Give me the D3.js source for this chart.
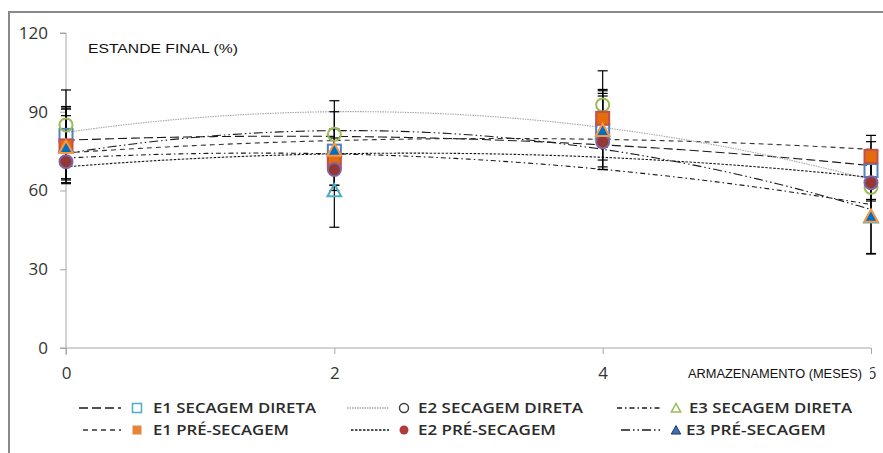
<!DOCTYPE html>
<html>
<head>
<meta charset="utf-8">
<script src="https://cdn.jsdelivr.net/npm/d3@7/dist/d3.min.js"></script>
<style>
  html, body { margin: 0; padding: 0; background: #fff; }
  svg { display: block; }
</style>
</head>
<body>
<svg id="chart" width="883" height="453"></svg>
<script>
// Storage time (months)
const months = [0, 2, 4, 6];
const xTicks = [0, 2, 4, 6];
const yTicks = [0, 30, 60, 90, 120];

const seriesNames = [
  "E1 SECAGEM DIRETA", "E1 PRÉ-SECAGEM",
  "E2 SECAGEM DIRETA", "E2 PRÉ-SECAGEM",
  "E3 SECAGEM DIRETA", "E3 PRÉ-SECAGEM"
];

// Final stand (%) per storage time
const e1Direta = [81, 75, 83, 67.6];
const e1Pre    = [77, 71, 87.5, 73];
const e2Direta = [85, 81.4, 92.6, 61.2];
const e2Pre    = [71, 68, 78.6, 63];
const e3Direta = [77, 60, 82, 50];
const e3Pre    = [76.5, 75.5, 83, 50.3];

// Error amplitudes (±)
const e1DiretaErr = [11, 15, 15, 11];
const e1PreErr    = [14, 9, 11, 8];
const e2DiretaErr = [13.3, 12.8, 13, 13];
const e2PreErr    = [7, 6, 7, 7];
const e3DiretaErr = [14.4, 14, 14, 14];
const e3PreErr    = [12, 8, 14, 14.5];

const titleText = "ESTANDE FINAL (%)";
const xTitleText = "ARMAZENAMENTO (MESES)";

// ---- styling per series ----
const styles = [
  { shape: "square",   fill: "none",    stroke: "#4F81BD", lFill: "none",    lStroke: "#4BACC6", dash: "9,4",            line: "#1a1a1a" },
  { shape: "square",   fill: "#E46C0A", stroke: "#C0504D", lFill: "#E8833A", lStroke: "none",    dash: "5,4",            line: "#333" },
  { shape: "circle",   fill: "none",    stroke: "#9BBB59", lFill: "none",    lStroke: "#404040", dash: "1.5,1",          line: "#a6a6a6" },
  { shape: "circle",   fill: "#953735", stroke: "#8064A2", lFill: "#B13B3B", lStroke: "none",    dash: "2.5,1.5",        line: "#1a1a1a" },
  { shape: "triangle", fill: "none",    stroke: "#4BACC6", lFill: "none",    lStroke: "#9BBB59", dash: "5,3,1.5,3",      line: "#1a1a1a" },
  { shape: "triangle", fill: "#0070C0", stroke: "#F79646", lFill: "#3F6FB3", lStroke: "#1F3864", dash: "9,3,1.5,3,1.5,3", line: "#1a1a1a" }
];

const values = [e1Direta, e1Pre, e2Direta, e2Pre, e3Direta, e3Pre];
const errors = [e1DiretaErr, e1PreErr, e2DiretaErr, e2PreErr, e3DiretaErr, e3PreErr];

const series = seriesNames.map((name, i) => ({
  name, values: values[i], errors: errors[i], style: styles[i]
}));

const svg = d3.select("#chart");

// outer frame (left and top edges)
svg.append("path")
  .attr("d", "M9,453 L9,12 L883,12")
  .attr("fill", "none").attr("stroke", "#898989").attr("stroke-width", 2);

const x = d3.scaleLinear().domain([0, 6]).range([66, 871]);
const y = d3.scaleLinear().domain([0, 120]).range([348, 33]);

// ---- axes ----
const yAxis = d3.axisLeft(y).tickValues(yTicks).tickSize(6).tickPadding(12);
const gy = svg.append("g").attr("transform", `translate(${x(0)},0)`).call(yAxis);
gy.select(".domain").attr("stroke", "#a6a6a6").attr("d", `M-6,${y(120)}H0V${y(0) + 7}`);
gy.selectAll(".tick line").attr("stroke", "#a6a6a6");
gy.selectAll(".tick text")
  .attr("font-family", "'Open Sans', 'Liberation Sans', sans-serif")
  .attr("font-size", 17).attr("fill", "#333");

const xAxis = d3.axisBottom(x).tickValues(xTicks).tickSize(6).tickPadding(13).tickFormat(d3.format("d"));
const gx = svg.append("g").attr("transform", `translate(0,${y(0)})`).call(xAxis);
gx.select(".domain").attr("stroke", "#a6a6a6").attr("d", `M${x(0) - 6},0H${x(6)}`);
gx.selectAll(".tick line").attr("stroke", "#a6a6a6");
gx.selectAll(".tick text")
  .attr("font-family", "'Open Sans', 'Liberation Sans', sans-serif")
  .attr("font-size", 17).attr("fill", "#333");

// axis titles
svg.append("text")
  .attr("x", 88).attr("y", 53)
  .attr("font-family", "'Liberation Sans', Arial, sans-serif")
  .attr("font-size", 13).attr("fill", "#111")
  .attr("textLength", 150).attr("lengthAdjust", "spacingAndGlyphs")
  .text(titleText);

svg.append("rect")
  .attr("x", 684).attr("y", 362).attr("width", 186).attr("height", 24)
  .attr("fill", "#fff");
svg.append("text")
  .attr("x", 688).attr("y", 378)
  .attr("font-family", "'Liberation Sans', Arial, sans-serif")
  .attr("font-size", 12).attr("fill", "#111")
  .attr("textLength", 174).attr("lengthAdjust", "spacingAndGlyphs")
  .text(xTitleText);

// ---- quadratic trend lines (least squares) ----
function quadFit(xs, ys) {
  const n = xs.length;
  let s = [0, 0, 0, 0, 0], t = [0, 0, 0];
  for (let i = 0; i < n; i++) {
    const xi = xs[i], yi = ys[i];
    for (let k = 0; k < 5; k++) s[k] += Math.pow(xi, k);
    for (let k = 0; k < 3; k++) t[k] += yi * Math.pow(xi, k);
  }
  const A = [[s[0], s[1], s[2]], [s[1], s[2], s[3]], [s[2], s[3], s[4]]];
  const det = m => m[0][0] * (m[1][1] * m[2][2] - m[1][2] * m[2][1])
                 - m[0][1] * (m[1][0] * m[2][2] - m[1][2] * m[2][0])
                 + m[0][2] * (m[1][0] * m[2][1] - m[1][1] * m[2][0]);
  const D = det(A);
  const coef = [0, 1, 2].map(c => {
    const M = A.map((row, r) => row.map((v, j) => (j === c ? t[r] : v)));
    return det(M) / D;
  });
  return xv => coef[0] + coef[1] * xv + coef[2] * xv * xv;
}

const line = d3.line().x(d => x(d[0])).y(d => y(d[1]));
const samples = d3.range(0, 6.0001, 0.05);

svg.append("g").selectAll("path")
  .data(series)
  .join("path")
  .attr("fill", "none")
  .attr("stroke", d => d.style.line)
  .attr("stroke-width", 1.1)
  .attr("stroke-dasharray", d => d.style.dash)
  .attr("d", d => {
    const f = quadFit(months, d.values);
    return line(samples.map(v => [v, f(v)]));
  });

// ---- error bars ----
const gErr = svg.append("g").attr("stroke", "#000").attr("stroke-width", 1.2);
series.forEach(s => {
  s.values.forEach((v, i) => {
    const cx = x(months[i]);
    const top = y(v + s.errors[i]), bot = y(v - s.errors[i]);
    gErr.append("line").attr("x1", cx).attr("x2", cx).attr("y1", top).attr("y2", bot);
    gErr.append("line").attr("x1", cx - 5).attr("x2", cx + 5).attr("y1", top).attr("y2", top);
    gErr.append("line").attr("x1", cx - 5).attr("x2", cx + 5).attr("y1", bot).attr("y2", bot);
  });
});

// ---- markers ----
function drawMarker(g, shape, cx, cy, size, fill, stroke, sw) {
  const h = size / 2;
  if (shape === "square") {
    g.append("rect").attr("x", cx - h).attr("y", cy - h)
      .attr("width", size).attr("height", size)
      .attr("fill", fill).attr("stroke", stroke).attr("stroke-width", sw);
  } else if (shape === "circle") {
    g.append("circle").attr("cx", cx).attr("cy", cy).attr("r", h)
      .attr("fill", fill).attr("stroke", stroke).attr("stroke-width", sw);
  } else {
    g.append("path")
      .attr("d", `M${cx},${cy - h} L${cx + h * 1.05},${cy + h * 0.9} L${cx - h * 1.05},${cy + h * 0.9} Z`)
      .attr("fill", fill).attr("stroke", stroke).attr("stroke-width", sw)
      .attr("stroke-linejoin", "miter");
  }
}

const drawOrder = [0, 2, 4, 1, 3, 5];
const gMarks = svg.append("g");
drawOrder.forEach(si => {
  const s = series[si];
  s.values.forEach((v, i) => {
    drawMarker(gMarks, s.style.shape, x(months[i]), y(v), 13, s.style.fill, s.style.stroke, 2);
  });
});

// ---- legend ----
const legendCols = [
  { lineX: [79, 121], markX: 137, textX: 153, textW: [163, 136] },
  { lineX: [347, 389], markX: 404, textX: 418, textW: [165, 138] },
  { lineX: [617, 660], markX: 676, textX: 689, textW: [163, 140] }
];
const legendRows = [408, 430];

const gLeg = svg.append("g");
series.forEach((s, i) => {
  const col = legendCols[Math.floor(i / 2)];
  const row = i % 2;
  const ly = legendRows[row];
  gLeg.append("line")
    .attr("x1", col.lineX[0] + (row ? 4 : 0)).attr("x2", col.lineX[1])
    .attr("y1", ly).attr("y2", ly)
    .attr("stroke", s.style.line).attr("stroke-width", 1.3)
    .attr("stroke-dasharray", s.style.dash);
  drawMarker(gLeg, s.style.shape, col.markX, ly, 9, s.style.lFill,
    s.style.lStroke, s.style.lFill === "none" ? 1.5 : 1);
  gLeg.append("text")
    .attr("x", col.textX - (i === 5 ? 3 : 0)).attr("y", ly + 5)
    .attr("font-family", "'Open Sans', 'Noto Sans', sans-serif")
    .attr("font-size", 14).attr("font-weight", 600).attr("fill", "#2b2b2b")
    .attr("textLength", col.textW[row]).attr("lengthAdjust", "spacingAndGlyphs")
    .text(s.name);
});
</script>
</body>
</html>
